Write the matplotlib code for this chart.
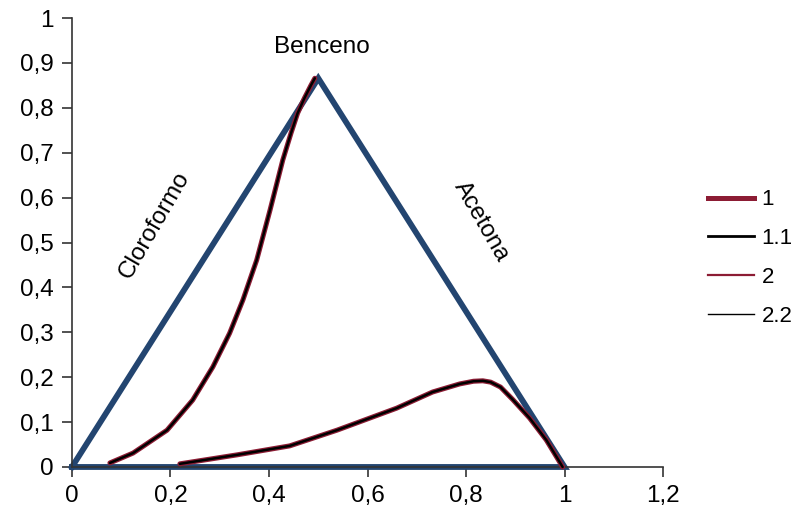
import matplotlib.pyplot as plt
from matplotlib.lines import Line2D

plt.rcParams['font.family'] = ['Liberation Sans', 'DejaVu Sans']

# triangle corners
tri_x = [0, 0.5, 1, 0]
tri_y = [0, 0.866, 0, 0]

# curve 1 (left branch)
c1_x = [0.077, 0.124, 0.193, 0.245, 0.286, 0.320, 0.347, 0.375, 0.402, 0.428, 0.445, 0.458, 0.472, 0.485, 0.493]
c1_y = [0.009, 0.031, 0.082, 0.149, 0.223, 0.298, 0.372, 0.461, 0.572, 0.684, 0.745, 0.788, 0.822, 0.850, 0.866]

# curve 2 (bottom branch)
c2_x = [0.219, 0.335, 0.442, 0.538, 0.659, 0.732, 0.787, 0.815, 0.834, 0.850, 0.870, 0.895, 0.929, 0.963, 0.984, 0.996]
c2_y = [0.007, 0.027, 0.047, 0.082, 0.131, 0.167, 0.185, 0.191, 0.192, 0.189, 0.178, 0.150, 0.109, 0.060, 0.022, 0.0]

xticks = [0, 0.2, 0.4, 0.6, 0.8, 1, 1.2]
xtick_labels = ["0", "0,2", "0,4", "0,6", "0,8", "1", "1,2"]
yticks = [0, 0.1, 0.2, 0.3, 0.4, 0.5, 0.6, 0.7, 0.8, 0.9, 1]
ytick_labels = ["0", "0,1", "0,2", "0,3", "0,4", "0,5", "0,6", "0,7", "0,8", "0,9", "1"]

red = "#8c1c34"
blue = "#234570"
fs = 17.5

fig = plt.figure(figsize=(7.97, 5.13), dpi=100)
ax = fig.add_axes([0.0903, 0.0897, 0.7417, 0.875])

ax.plot(tri_x, tri_y, color=blue, lw=4.2, solid_joinstyle="miter", zorder=2)

ax.plot(c1_x, c1_y, color=red, lw=3.6, solid_capstyle="round", solid_joinstyle="round", zorder=3)
ax.plot(c1_x, c1_y, color="black", lw=1.8, solid_capstyle="round", solid_joinstyle="round", zorder=4)
ax.plot(c2_x, c2_y, color=red, lw=3.6, solid_capstyle="round", solid_joinstyle="round", zorder=3)
ax.plot(c2_x, c2_y, color="black", lw=1.8, solid_capstyle="round", solid_joinstyle="round", zorder=4)

ax.text(0.507, 0.936, "Benceno", ha="center", va="center", fontsize=fs)
ax.text(0.168, 0.539, "Cloroformo", ha="center", va="center", rotation=60, fontsize=fs)
ax.text(0.832, 0.546, "Acetona", ha="center", va="center", rotation=-60, fontsize=fs)

ax.set_xlim(0, 1.2)
ax.set_ylim(0, 1)
ax.set_xticks(xticks)
ax.set_xticklabels(xtick_labels)
ax.set_yticks(yticks)
ax.set_yticklabels(ytick_labels)
ax.tick_params(labelsize=fs, length=7, width=1.2, color="#333333", pad=6)
for s in ["top", "right"]:
    ax.spines[s].set_visible(False)
for s in ["left", "bottom"]:
    ax.spines[s].set_color("#333333")
    ax.spines[s].set_linewidth(1.2)
for ln in ax.lines:
    ln.set_clip_on(False)

handles = [
    Line2D([], [], color=red, lw=3.6),
    Line2D([], [], color="black", lw=2.0),
    Line2D([], [], color=red, lw=1.6),
    Line2D([], [], color="black", lw=1.0),
]
fig.legend(handles, ["1", "1.1", "2", "2.2"], loc="center left",
           bbox_to_anchor=(0.883, 0.497), frameon=False, fontsize=16,
           handlelength=2.05, handletextpad=0.35, labelspacing=0.8,
           borderpad=0.2, borderaxespad=0)

fig.savefig("out.png", dpi=100)
